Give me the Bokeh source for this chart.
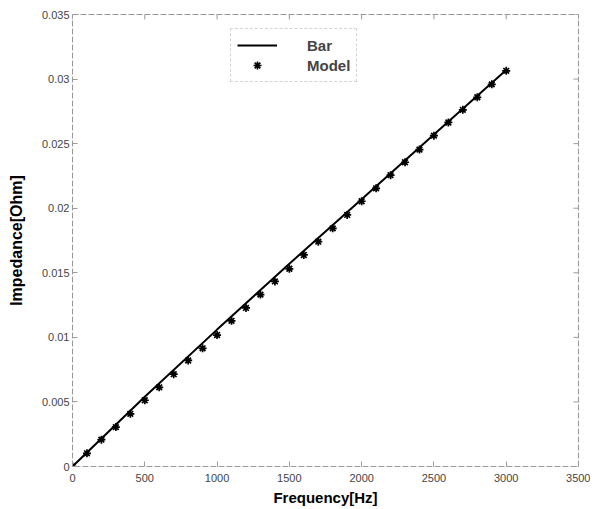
from bokeh.plotting import figure
from bokeh.models import FixedTicker, Legend, LegendItem, Range1d
from bokeh.embed import file_html
from bokeh.resources import INLINE

# ---- data ----
freq_model = [0, 100, 200, 300, 400, 500, 600, 700, 800, 900, 1000,
              1100, 1200, 1300, 1400, 1500, 1600, 1700, 1800, 1900, 2000,
              2100, 2200, 2300, 2400, 2500, 2600, 2700, 2800, 2900, 3000]
model_imp = [0.0, 0.00102, 0.00208, 0.00305, 0.00408, 0.00513, 0.00613, 0.00715, 0.00821, 0.00915, 0.01018,
             0.01128, 0.01228, 0.01331, 0.01433, 0.01531, 0.01638, 0.01741, 0.01844, 0.01948, 0.02054,
             0.02154, 0.02256, 0.02356, 0.02454, 0.02562, 0.02664, 0.02762, 0.02859, 0.02959, 0.03064]

freq_bar = [0, 500, 1000, 1500, 2000, 2500, 3000]
bar_imp = [0.0, 0.0054, 0.0106, 0.0157, 0.0207, 0.0257, 0.0307]

x_ticks = [0, 500, 1000, 1500, 2000, 2500, 3000, 3500]
x_tick_labels = ["0", "500", "1000", "1500", "2000", "2500", "3000", "3500"]
y_ticks = [0, 0.005, 0.01, 0.015, 0.02, 0.025, 0.03, 0.035]
y_tick_labels = ["0", "0.005", "0.01", "0.015", "0.02", "0.025", "0.03", "0.035"]

FONT = "Liberation Sans"
FRAME_COLOR = "#9a9a9a"
TICK_TEXT = "#444444"

W, H = 590, 508
BL, BR, BT, BB = 72, 12, 14, 39
FW, FH = W - BL - BR, H - BT - BB
X0, X1, Y0, Y1 = 0, 3500, 0, 0.035

p = figure(output_backend="svg", toolbar_location=None,
           width=W, height=H,
           min_border_left=BL, min_border_right=BR,
           min_border_top=BT, min_border_bottom=BB,
           x_range=Range1d(X0, X1), y_range=Range1d(Y0, Y1),
           x_axis_label="Frequency[Hz]", y_axis_label="Impedance[Ohm]")

p.xgrid.visible = False
p.ygrid.visible = False
p.background_fill_color = "white"
p.border_fill_color = "white"
p.outline_line_color = FRAME_COLOR
p.outline_line_width = 1
p.outline_line_dash = "6 2"

bar = p.line(freq_bar, bar_imp, line_color="black", line_width=2)
mdl = p.scatter(freq_model, model_imp, marker="asterisk", size=8,
                line_color="black", line_width=1.7)

# mirrored tick marks on top and right (box on), 5 px long
tick_px = 5
dy = tick_px / FH * (Y1 - Y0)
dx = tick_px / FW * (X1 - X0)
p.segment(x0=x_ticks, y0=[Y1] * len(x_ticks), x1=x_ticks, y1=[Y1 - dy] * len(x_ticks),
          line_color=FRAME_COLOR, line_width=1)
p.segment(x0=[X1] * len(y_ticks), y0=y_ticks, x1=[X1 - dx] * len(y_ticks), y1=y_ticks,
          line_color=FRAME_COLOR, line_width=1)

xa = p.xaxis[0]
ya = p.yaxis[0]
xa.ticker = FixedTicker(ticks=x_ticks)
ya.ticker = FixedTicker(ticks=y_ticks)
xa.major_label_overrides = {t: l for t, l in zip(x_ticks, x_tick_labels)}
ya.major_label_overrides = {t: l for t, l in zip(y_ticks, y_tick_labels)}

for ax in (xa, ya):
    ax.axis_line_color = None
    ax.major_tick_in = 5
    ax.major_tick_out = 0
    ax.major_tick_line_color = FRAME_COLOR
    ax.minor_tick_line_color = None
    ax.major_label_text_font = FONT
    ax.major_label_text_font_size = "11px"
    ax.major_label_text_color = TICK_TEXT
    ax.axis_label_text_font = FONT
    ax.axis_label_text_font_style = "bold"
    ax.axis_label_text_color = "black"

xa.major_label_standoff = 7
xa.axis_label_standoff = 4
xa.axis_label_text_font_size = "15px"
ya.major_label_standoff = 3
ya.axis_label_standoff = 14
ya.axis_label_text_font_size = "16px"

legend = Legend(items=[LegendItem(label="Bar", renderers=[bar]),
                       LegendItem(label="Model", renderers=[mdl])],
                location=(158, 384),
                orientation="vertical",
                glyph_width=40, glyph_height=20, label_height=20,
                label_standoff=30, padding=6, spacing=0, margin=0,
                label_text_font=FONT, label_text_font_style="bold",
                label_text_font_size="15px",
                border_line_color="#aaaaaa", border_line_dash="2 2",
                border_line_width=1,
                background_fill_color="white", background_fill_alpha=1.0)
p.add_layout(legend)

html = file_html(p, INLINE)
with open("out.html", "w") as f:
    f.write(html)
